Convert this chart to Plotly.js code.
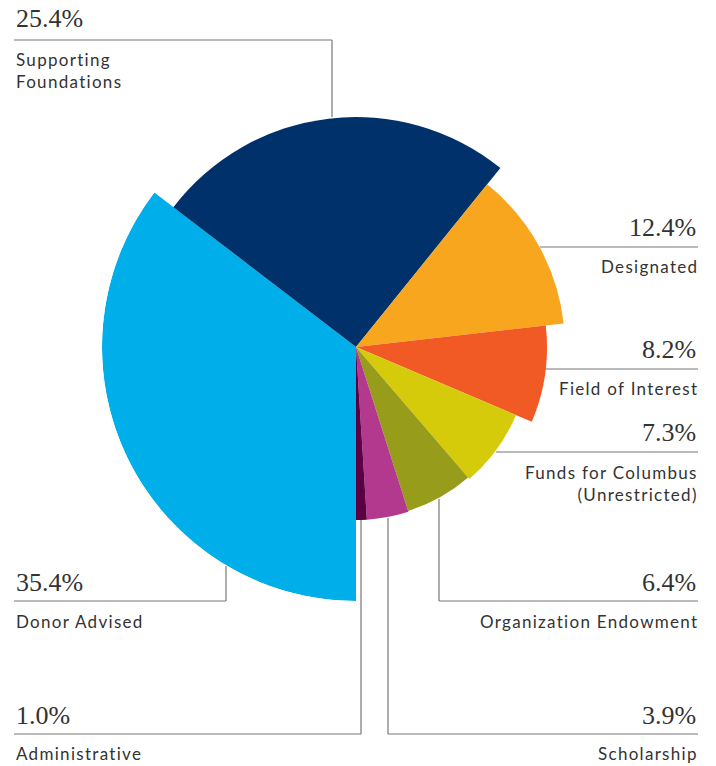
<!DOCTYPE html>
<html>
<head>
<meta charset="utf-8">
<script src="https://cdn.plot.ly/plotly-3.0.1.min.js"></script>
<style>html,body{margin:0;padding:0;background:#fff;}#chart{width:716px;height:766px;}</style>
</head>
<body>
<div id="chart"></div>
<script>
// ---- data ----
var categories = ["Donor Advised", "Supporting Foundations", "Designated", "Field of Interest",
  "Funds for Columbus<br>(Unrestricted)", "Organization Endowment", "Scholarship", "Administrative"];
var shares = [35.4, 25.4, 12.4, 8.2, 7.3, 6.4, 3.9, 1.0];
var radius = [254, 230, 209, 191, 174, 172, 173, 173];
var colors = ["#00AEEA", "#00316A", "#F8A61E", "#F15A24", "#D5CB0B", "#979C1A", "#B3398E", "#5C0043"];
var shareLabels = ["35.4%", "25.4%", "12.4%", "8.2%", "7.3%", "6.4%", "3.9%", "1.0%"];

// build angular positions from shares (clockwise from bottom)
var theta = [], widths = [];
var start = 180;
for (var i = 0; i < shares.length; i++) {
  var w = shares[i] * 3.6;
  widths.push(w);
  theta.push(start + w / 2);
  start += w;
}

var trace = {
  type: "barpolar",
  r: radius,
  theta: theta,
  width: widths,
  text: categories,
  marker: {color: colors, line: {width: 0}},
  hoverinfo: "text",
  showlegend: false
};

// label layout (positions in pixels)
var W = 716, H = 766;
function px(x) { return x / W; }
function py(y) { return 1 - y / H; }
var pctFont = {family: "Liberation Serif, serif", size: 26, color: "#333333"};
var lblFont = {family: "Lato, sans-serif", size: 17, color: "#333333"};
var lineStyle = {color: "#777777", width: 1.2};

var labelSpec = [
  {i: 0, side: "left", pctY: 582, lineY: 601, nameY: 621, lx: 226, vy: 566},
  {i: 1, side: "left", pctY: 19, lineY: 40, nameY: 70, lx: 332, vy: 117},
  {i: 2, side: "right", pctY: 227, lineY: 247, nameY: 266, lx: 540, vy: null},
  {i: 3, side: "right", pctY: 350, lineY: 369, nameY: 388, lx: 545, vy: null},
  {i: 4, side: "right", pctY: 432, lineY: 452, nameY: 483, lx: 496, vy: null},
  {i: 5, side: "right", pctY: 582, lineY: 601, nameY: 621, lx: 439, vy: 499},
  {i: 6, side: "right", pctY: 715, lineY: 734, nameY: 753, lx: 388, vy: 518},
  {i: 7, side: "left", pctY: 715, lineY: 734, nameY: 753, lx: 361, vy: 520}
];

function spaced(t) {
  return t.split("<br>").map(function (p) {
    return '<span style="letter-spacing:1.3px">' + p + '</span>';
  }).join("<br>");
}

var annotations = [], shapes = [];
labelSpec.forEach(function (s) {
  var left = s.side === "left";
  var xa = left ? 14 : 698;
  annotations.push({xref: "paper", yref: "paper", x: px(left ? 14 : 698), y: py(s.pctY), xanchor: left ? "left" : "right",
    yanchor: "middle", text: shareLabels[s.i], showarrow: false, font: pctFont});
  annotations.push({xref: "paper", yref: "paper", x: px(left ? 14 : 700), y: py(s.nameY), xanchor: left ? "left" : "right",
    yanchor: "middle", text: spaced(categories[s.i].replace("Supporting Foundations", "Supporting<br>Foundations")),
    showarrow: false, font: lblFont, align: left ? "left" : "right"});
  var x0 = left ? 14 : s.lx, x1 = left ? s.lx : 698;
  shapes.push({type: "line", xref: "paper", yref: "paper", x0: px(x0), x1: px(x1), y0: py(s.lineY), y1: py(s.lineY), line: lineStyle});
  if (s.vy !== null) {
    shapes.push({type: "line", xref: "paper", yref: "paper", x0: px(s.lx), x1: px(s.lx), y0: py(s.lineY), y1: py(s.vy), line: lineStyle});
  }
});

var layout = {
  width: W, height: H,
  margin: {l: 0, r: 0, t: 0, b: 0},
  paper_bgcolor: "#ffffff",
  showlegend: false,
  polar: {
    domain: {x: [102 / W, 610 / W], y: [1 - 601 / H, 1 - 93 / H]},
    bgcolor: "rgba(0,0,0,0)",
    hole: 0,
    radialaxis: {visible: false, range: [0, 254], showgrid: false},
    angularaxis: {visible: false, rotation: 90, direction: "clockwise", showgrid: false, thetaunit: "degrees"},
    bargap: 0
  },
  annotations: annotations,
  shapes: shapes
};

Plotly.newPlot("chart", [trace], layout, {displayModeBar: false, staticPlot: true});
</script>
</body>
</html>
